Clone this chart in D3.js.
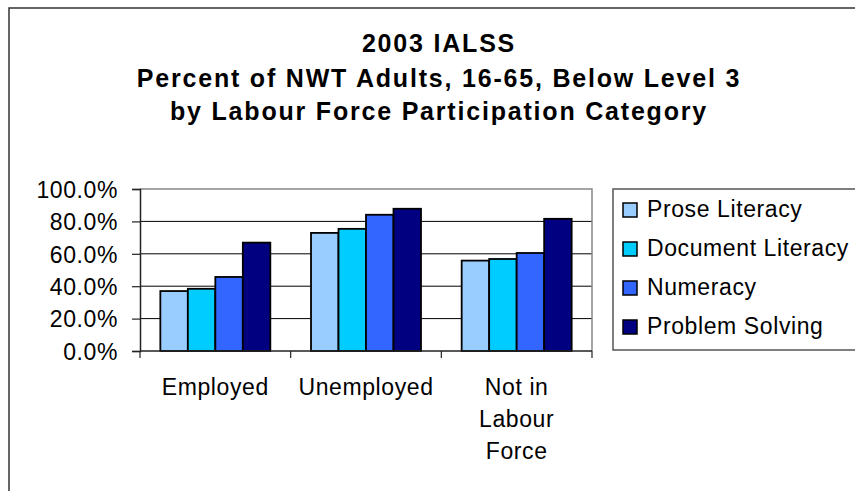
<!DOCTYPE html>
<html>
<head>
<meta charset="utf-8">
<script src="https://cdn.jsdelivr.net/npm/d3@7"></script>
<style>
  html, body { margin: 0; padding: 0; background: #fff; overflow: hidden; }
  text { font-family: Arial, "Liberation Sans", sans-serif; fill: #000; }
</style>
</head>
<body>
<div id="chart"></div>
<script>
var categories = [["Employed"], ["Unemployed"], ["Not in", "Labour", "Force"]]
var seriesNames = ["Prose Literacy", "Document Literacy", "Numeracy", "Problem Solving"]
var prose = [37.0, 72.9, 55.8]
var documentLit = [38.4, 75.4, 56.8]
var numeracy = [45.7, 84.1, 60.5]
var problemSolving = [66.9, 87.8, 81.6]
var yTicks = [0, 20, 40, 60, 80, 100]
var titleLines = ["2003 IALSS", "Percent of NWT Adults, 16-65, Below Level 3", "by Labour Force Participation Category"]

var colors = ["#99ccff", "#00ccff", "#3366ff", "#000080"]
var series = [prose, documentLit, numeracy, problemSolving]

var W = 855, H = 491
var plot = { left: 140, right: 592, top: 189, bottom: 351 }

var svg = d3.select("#chart").append("svg")
  .attr("width", W)
  .attr("height", H)

// chart area border (runs off the right and bottom edge)
svg.append("rect")
  .attr("x", 9).attr("y", 8)
  .attr("width", 900).attr("height", 600)
  .attr("fill", "#fff")
  .attr("stroke", "#333")
  .attr("stroke-width", 1.5)

svg.append("g").selectAll("text")
  .data(titleLines).enter().append("text")
  .attr("x", 439)
  .attr("y", (d, i) => [52, 86.5, 120][i])
  .attr("text-anchor", "middle")
  .style("font-size", "25px")
  .style("font-weight", "bold")
  .style("letter-spacing", "1.8px")
  .text(d => d)

var x0 = d3.scaleBand()
  .domain(d3.range(categories.length))
  .range([plot.left, plot.right])
  .paddingInner(0.27)
  .paddingOuter(0.135)

var x1 = d3.scaleBand()
  .domain(d3.range(seriesNames.length))
  .range([0, x0.bandwidth()])

var y = d3.scaleLinear()
  .domain([0, 100])
  .range([plot.bottom, plot.top])

// gridlines
svg.append("g").selectAll("line")
  .data(yTicks.filter(d => d > 0 && d < 100)).enter().append("line")
  .attr("x1", plot.left).attr("x2", plot.right)
  .attr("y1", d => y(d)).attr("y2", d => y(d))
  .attr("stroke", "#000")
  .attr("stroke-width", 1)

// plot frame top + right
svg.append("path")
  .attr("d", "M" + plot.left + "," + plot.top + "H" + plot.right + "V" + plot.bottom)
  .attr("fill", "none")
  .attr("stroke", "#888")
  .attr("stroke-width", 1.5)

var groups = svg.append("g").selectAll("g")
  .data(series).enter().append("g")
  .attr("fill", (d, i) => colors[i])
  .attr("transform", (d, i) => "translate(" + x1(i) + ",0)")

groups.selectAll("rect")
  .data(d => d).enter().append("rect")
  .attr("x", (d, j) => x0(j))
  .attr("y", d => y(d))
  .attr("width", x1.bandwidth())
  .attr("height", d => y(0) - y(d))
  .attr("stroke", "#000")
  .attr("stroke-width", 1.8)

// y axis
var yAxis = svg.append("g")
  .attr("transform", "translate(" + plot.left + ",0)")
  .call(d3.axisLeft(y).tickValues(yTicks).tickSize(8).tickPadding(14)
    .tickFormat(d => d.toFixed(1) + "%"))
yAxis.select(".domain").attr("stroke", "#222").attr("stroke-width", 1.5)
yAxis.selectAll(".tick line").attr("stroke", "#222").attr("stroke-width", 1.2)
yAxis.selectAll(".tick text")
  .style("font-size", "23px")
  .style("letter-spacing", "0.6px")
  .attr("dy", "0.36em")

// x axis
svg.append("line")
  .attr("x1", plot.left).attr("x2", plot.right)
  .attr("y1", plot.bottom).attr("y2", plot.bottom)
  .attr("stroke", "#222").attr("stroke-width", 1.5)

var bounds = d3.range(categories.length).map(i => x0(i) - x0.step() * x0.paddingInner() / 2)
bounds.push(plot.right)
svg.append("g").selectAll("line")
  .data(bounds).enter().append("line")
  .attr("x1", d => d).attr("x2", d => d)
  .attr("y1", plot.bottom).attr("y2", plot.bottom + 7)
  .attr("stroke", "#222").attr("stroke-width", 1.2)

var xl = svg.append("g").selectAll("text")
  .data(categories).enter().append("text")
  .attr("x", (d, i) => x0(i) + x0.bandwidth() / 2)
  .attr("y", 395)
  .attr("text-anchor", "middle")
  .style("font-size", "23px")
  .style("letter-spacing", "0.6px")

xl.selectAll("tspan")
  .data(d => d).enter().append("tspan")
  .attr("x", function(){ return d3.select(this.parentNode).attr("x") })
  .attr("dy", (d, i) => i ? 32 : 0)
  .text(d => d)

// legend
var legend = svg.append("g")

legend.append("rect")
  .attr("x", 613).attr("y", 189)
  .attr("width", 300).attr("height", 161)
  .attr("fill", "#fff")
  .attr("stroke", "#555")
  .attr("stroke-width", 1.5)

var items = legend.selectAll(".item")
  .data(seriesNames).enter().append("g")
  .attr("class", "item")
  .attr("transform", (d, i) => "translate(0," + (217 + i * 39) + ")")

items.append("rect")
  .attr("x", 623).attr("y", -14)
  .attr("width", 14).attr("height", 14)
  .attr("fill", (d, i) => colors[i])
  .attr("stroke", "#000")
  .attr("stroke-width", 1.5)

items.append("text")
  .attr("x", 647)
  .style("font-size", "23px")
  .style("letter-spacing", "0.6px")
  .text(d => d)
</script>
</body>
</html>
